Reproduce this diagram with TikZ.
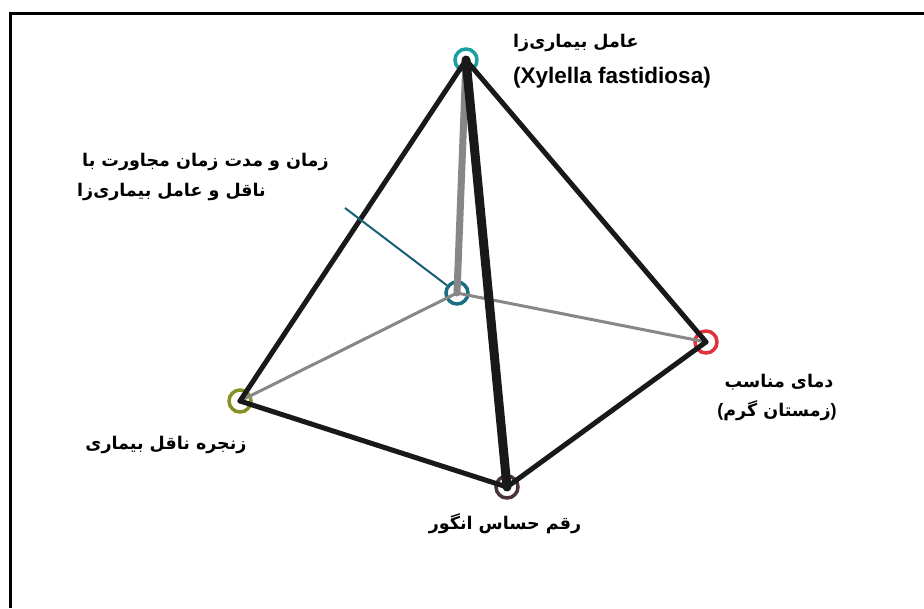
\documentclass[tikz,border=0pt]{standalone}
\usepackage{fontspec}
\setmainfont{Liberation Sans}
\newfontfamily\arabicfont[Script=Arabic]{DejaVu Sans}
\TeXXeTstate=1
\definecolor{apexc}{RGB}{25,160,165}
\definecolor{centc}{RGB}{25,110,130}
\definecolor{redc}{RGB}{222,50,60}
\definecolor{olivec}{RGB}{135,145,35}
\definecolor{botc}{RGB}{75,50,65}
\definecolor{greyc}{RGB}{135,135,135}
\definecolor{pointc}{RGB}{25,95,115}
\newcommand{\lparen}{\mbox{\normalfont\bfseries\fontsize{18}{20}\selectfont(}}
\newcommand{\rparen}{\mbox{\normalfont\bfseries\fontsize{18}{20}\selectfont)}}
\tikzset{
  ring/.style={circle, draw=#1, line width=3.5pt, minimum size=22pt, inner sep=0pt},
  blackedge/.style={line width=5pt, black!90, line cap=round, line join=round},
  greyedge/.style={line width=3pt, greyc, line cap=round},
  fa/.style={font=\arabicfont\bfseries\fontsize{17.5}{20}\selectfont, inner sep=0pt},
  la/.style={font=\bfseries\fontsize{22.5}{26}\selectfont, inner sep=0pt},
}
\begin{document}
\begin{tikzpicture}[x=1pt,y=-1pt]
\useasboundingbox (0,0) rectangle (924,608);
\fill[white] (0,0) rectangle (924,608);
% frame (top and left edges)
\draw[line width=3pt] (10,608) -- (10,13) -- (924,13);
% vertices
\coordinate (A) at (466,60);
\coordinate (C) at (457,293);
\coordinate (R) at (706,342);
\coordinate (L) at (240,401);
\coordinate (B) at (507,487);
% rings
\node[ring=apexc] (rA) at (A) {};
\node[ring=centc] (rC) at (C) {};
\node[ring=redc] (rR) at (R) {};
\node[ring=olivec] (rL) at (L) {};
\node[ring=botc] (rB) at (B) {};
% back edges
\draw[greyedge] (C) -- (L);
\draw[greyedge] (C) -- (R);
\draw[greyedge, line width=7pt] (A) -- (C);
% front edges
\draw[blackedge] (L) -- (A) -- (R);
\draw[blackedge] (L) -- (B) -- (R);
\draw[blackedge, line width=9pt] (A) -- (B);
% pointer
\coordinate (P) at (345,208);
\draw[pointc, line width=2pt] (P) -- (rC);
% labels
\node[fa, anchor=west] (tA1) at (513,43) {\beginR عامل بیماری‌زا\endR};
\node[la, anchor=west] (tA2) at (513,78) {(Xylella fastidiosa)};
\node[fa, anchor=west] (tC1) at (82,162) {\beginR زمان و مدت زمان مجاورت با\endR};
\node[fa, anchor=west] (tC2) at (77,192) {\beginR ناقل و عامل بیماری‌زا\endR};
\node[fa] (tR1) at (779,382) {\beginR دمای مناسب\endR};
\node[fa] (tR2) at (777,411) {\lparen\beginR زمستان گرم\endR\rparen};
\node[fa] (tL) at (166,445) {\beginR زنجره ناقل بیماری\endR};
\node[fa] (tB) at (505,524) {\beginR رقم حساس انگور\endR};
\end{tikzpicture}
\end{document}
